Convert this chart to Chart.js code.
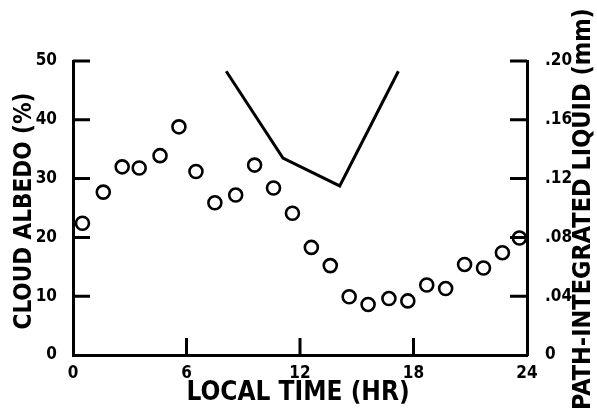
<!DOCTYPE html>
<html>
<head>
<meta charset="utf-8">
<script src="https://cdn.jsdelivr.net/npm/chart.js@4.4.0/dist/chart.umd.min.js"></script>
<style>
  html, body { margin: 0; padding: 0; background: #fff; }
  #wrap { width: 597px; height: 415px; position: relative; }
</style>
</head>
<body>
<div id="wrap"><canvas id="myChart"></canvas></div>
<script>
'use strict';
// cloud albedo (%) at each hour
let hours = [0.5, 1.6, 2.6, 3.5, 4.6, 5.6, 6.5, 7.5, 8.6, 9.6, 10.6, 11.6, 12.6, 13.6, 14.6, 15.6, 16.7, 17.7, 18.7, 19.7, 20.7, 21.7, 22.7, 23.6];
let albedo = [22.4, 27.7, 32.0, 31.8, 33.9, 38.8, 31.2, 25.9, 27.2, 32.3, 28.4, 24.1, 18.3, 15.2, 9.9, 8.6, 9.6, 9.2, 11.9, 11.3, 15.4, 14.8, 17.4, 19.9];
// path-integrated liquid (mm)
let liquidHours = [8.1, 11.1, 14.1, 17.2];
let liquid = [0.193, 0.134, 0.115, 0.193];

let xTicks = [0, 6, 12, 18, 24];
let leftTicks = [0, 10, 20, 30, 40, 50];
let rightTicks = [0, 0.04, 0.08, 0.12, 0.16, 0.20];
let rightTickLabels = ['0', '.04', '.08', '.12', '.16', '.20'];

let fontFamily = 'DejaVu Sans Condensed';

let albedoPoints = [];
for (let i = 0; i < hours.length; i++) {
  albedoPoints.push({ x: hours[i], y: albedo[i] });
}
let liquidPoints = [];
for (let i = 0; i < liquidHours.length; i++) {
  liquidPoints.push({ x: liquidHours[i], y: liquid[i] });
}

// ticks point into the plot, and titles drawn by hand
let framePlugin = {
  id: 'frame',
  afterDraw(chart) {
    let ctx = chart.ctx;
    let xs = chart.scales.x;
    let yl = chart.scales.y;
    let yr = chart.scales.y2;
    let area = chart.chartArea;
    let len = 17;
    ctx.save();
    ctx.strokeStyle = '#000';
    ctx.lineWidth = 3;
    ctx.beginPath();
    for (let v of leftTicks.slice(1)) {
      let py = yl.getPixelForValue(v);
      ctx.moveTo(area.left, py);
      ctx.lineTo(area.left + len, py);
    }
    for (let v of rightTicks.slice(1)) {
      let py = yr.getPixelForValue(v);
      ctx.moveTo(area.right, py);
      ctx.lineTo(area.right - len, py);
    }
    for (let v of xTicks.slice(1, -1)) {
      let px = xs.getPixelForValue(v);
      ctx.moveTo(px, area.bottom);
      ctx.lineTo(px, area.bottom - len);
    }
    ctx.stroke();

    ctx.fillStyle = '#000';
    ctx.textAlign = 'center';
    ctx.textBaseline = 'middle';
    ctx.font = 'bold 26px "' + fontFamily + '"';
    ctx.fillText('LOCAL TIME (HR)', 298, 393);

    ctx.font = 'bold 24px "' + fontFamily + '"';
    ctx.save();
    ctx.translate(25, 211);
    ctx.rotate(-Math.PI / 2);
    ctx.fillText('CLOUD ALBEDO (%)', 0, 0);
    ctx.restore();

    ctx.font = 'bold 25px "' + fontFamily + '"';
    ctx.save();
    ctx.translate(583, 410);
    ctx.rotate(-Math.PI / 2);
    ctx.textAlign = 'left';
    ctx.fillText('PATH-INTEGRATED LIQUID (mm)', 0, 0);
    ctx.restore();
    ctx.restore();
  }
};

let ctx = document.getElementById('myChart').getContext('2d');
let myChart = new Chart(ctx, {
  type: 'scatter',
  data: {
    datasets: [{
      label: 'Cloud albedo',
      data: albedoPoints,
      yAxisID: 'y',
      pointStyle: 'circle',
      pointRadius: 6.5,
      pointBorderWidth: 2.6,
      pointBorderColor: '#000',
      pointBackgroundColor: 'rgba(0,0,0,0)',
      showLine: false
    },
    {
      label: 'Liquid',
      data: liquidPoints,
      yAxisID: 'y2',
      showLine: true,
      borderColor: '#000',
      borderWidth: 3,
      pointRadius: 0,
      tension: 0
    }]
  },
  options: {
    responsive: true,
    maintainAspectRatio: false,
    animation: false,
    layout: { padding: { top: 61, left: 0, right: 0, bottom: 0 } },
    plugins: {
      legend: { display: false },
      tooltip: { enabled: false }
    },
    scales: {
      x: {
        type: 'linear',
        min: 0,
        max: 24,
        afterBuildTicks(scale) { scale.ticks = xTicks.map(v => ({ value: v })); },
        afterFit(scale) { scale.height = 60; },
        grid: { display: false },
        border: { display: true, color: '#000', width: 3 },
        ticks: {
          color: '#000',
          padding: 0,
          font: { family: fontFamily, weight: 'bold', size: 17 }
        }
      },
      y: {
        position: 'left',
        min: 0,
        max: 50,
        afterBuildTicks(scale) { scale.ticks = leftTicks.map(v => ({ value: v })); },
        afterFit(scale) { scale.width = 73; },
        grid: { display: false },
        border: { display: true, color: '#000', width: 3 },
        ticks: {
          color: '#000',
          padding: 8,
          font: { family: fontFamily, weight: 'bold', size: 17 }
        }
      },
      y2: {
        position: 'right',
        min: 0,
        max: 0.2,
        afterBuildTicks(scale) { scale.ticks = rightTicks.map(v => ({ value: v })); },
        afterFit(scale) { scale.width = 70; },
        grid: { display: false },
        border: { display: true, color: '#000', width: 3 },
        ticks: {
          color: '#000',
          padding: 10,
          font: { family: fontFamily, weight: 'bold', size: 17 },
          callback: function (value, index) { return rightTickLabels[index]; }
        }
      }
    }
  },
  plugins: [framePlugin]
});
</script>
</body>
</html>
